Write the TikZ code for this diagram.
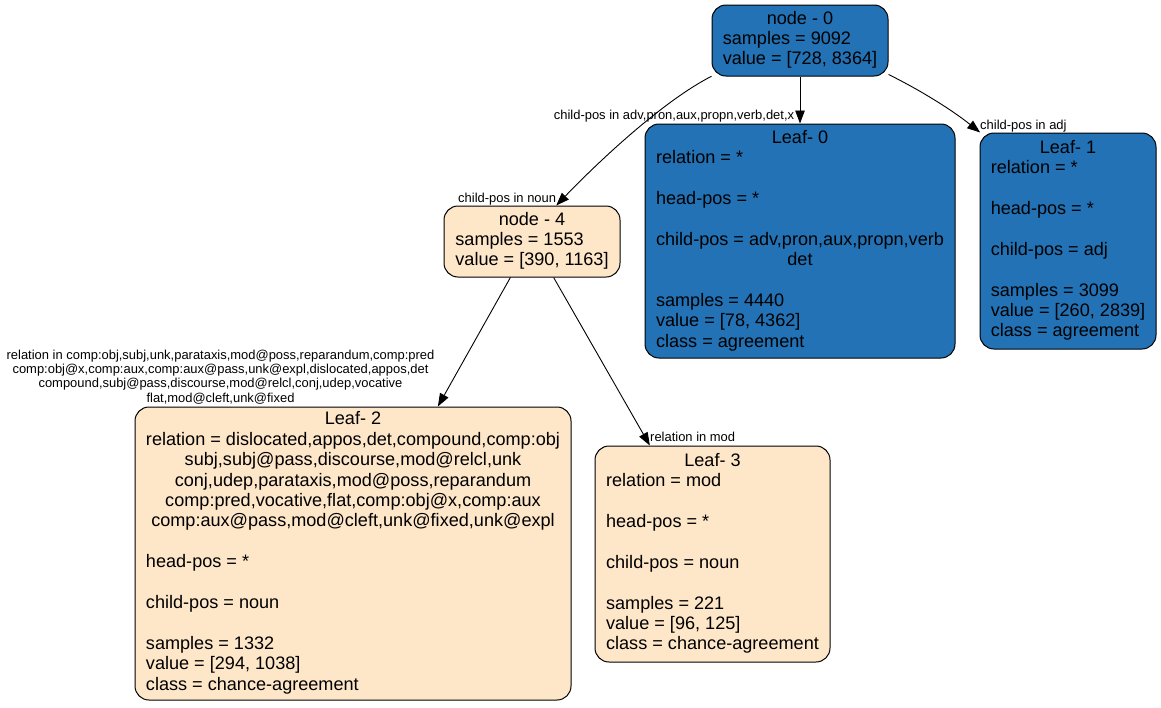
\documentclass[tikz,border=0pt]{standalone}
\usepackage{fontspec}
\setmainfont{Liberation Sans}
\usetikzlibrary{arrows.meta}
\definecolor{leafblue}{RGB}{34,114,181}
\definecolor{leafbeige}{RGB}{254,230,201}
\newcommand\nfont{\fontsize{18.1}{20.4}\selectfont}
\newcommand\efont{\fontsize{12.95}{14.2}\selectfont}
\newcommand\ctr[1]{\multicolumn{1}{@{}c@{}}{#1}}
\begin{document}
\begin{tikzpicture}[x=1pt,y=-1pt,
  box/.style={draw=black, line width=1pt, rounded corners=14pt, inner sep=0pt, font=\nfont},
  bluebox/.style={box, fill=leafblue},
  beigebox/.style={box, fill=leafbeige},
  edge/.style={draw=black, line width=0.9pt, -{Triangle[length=13pt,width=9.5pt]}},
  elabel/.style={font=\efont, inner sep=0pt}]
\useasboundingbox (0,0) rectangle (1161,707);

\node[bluebox, minimum width=176pt, minimum height=71pt] (n0) at (800,40.5)
  {\nfont\begin{tabular}{@{}l@{}}\ctr{node - 0}\\ samples = 9092\\ value = [728, 8364]\end{tabular}};

\node[bluebox, minimum width=310pt, minimum height=234pt] (l0) at (800,241)
  {\nfont\begin{tabular}{@{}l@{}}\ctr{Leaf- 0}\\ relation = *\\ \\ head-pos = *\\ \\ child-pos = adv,pron,aux,propn,verb\\ \ctr{det}\\ \\ samples = 4440\\ value = [78, 4362]\\ class = agreement\end{tabular}};

\node[bluebox, minimum width=176pt, minimum height=216pt] (l1) at (1068,241)
  {\nfont\begin{tabular}{@{}l@{}}\ctr{Leaf- 1}\\ relation = *\\ \\ head-pos = *\\ \\ child-pos = adj\\ \\ samples = 3099\\ value = [260, 2839]\\ class = agreement\end{tabular}};

\node[beigebox, minimum width=176pt, minimum height=71pt] (n4) at (532,241.5)
  {\nfont\begin{tabular}{@{}l@{}}\ctr{node - 4}\\ samples = 1553\\ value = [390, 1163]\end{tabular}};

\node[beigebox, minimum width=436pt, minimum height=293pt] (l2) at (353,553.5)
  {\nfont\begin{tabular}{@{}l@{}}\ctr{Leaf- 2}\\ relation = dislocated,appos,det,compound,comp:obj\\ \ctr{subj,subj@pass,discourse,mod@relcl,unk}\\ \ctr{conj,udep,parataxis,mod@poss,reparandum}\\ \ctr{comp:pred,vocative,flat,comp:obj@x,comp:aux}\\ \ctr{comp:aux@pass,mod@cleft,unk@fixed,unk@expl}\\ \\ head-pos = *\\ \\ child-pos = noun\\ \\ samples = 1332\\ value = [294, 1038]\\ class = chance-agreement\end{tabular}};

\node[beigebox, minimum width=235pt, minimum height=216pt] (l3) at (712.5,554)
  {\nfont\begin{tabular}{@{}l@{}}\ctr{Leaf- 3}\\ relation = mod\\ \\ head-pos = *\\ \\ child-pos = noun\\ \\ samples = 221\\ value = [96, 125]\\ class = chance-agreement\end{tabular}};

\draw[edge] (n0.202) .. controls (665,100) and (603,157) .. (n4.56);
\draw[edge] (n0.south) -- (l0.north);
\draw[edge] (n0.-21) .. controls (920,90) and (952,110) .. (l1.129);
\draw[edge] (n4.-121) -- (l2.60);
\draw[edge] (n4.-59) -- (l3.120);

\node[elabel, anchor=base] (e1) at (674,119) {child-pos in adv,pron,aux,propn,verb,det,x};
\node[elabel, anchor=base west] (e2) at (980,129.5) {child-pos in adj};
\node[elabel, anchor=base west] (e3) at (458,202) {child-pos in noun};
\node[elabel, align=center] (e4) at (220.5,377) {relation in comp:obj,subj,unk,parataxis,mod@poss,reparandum,comp:pred\\ comp:obj@x,comp:aux,comp:aux@pass,unk@expl,dislocated,appos,det\\ compound,subj@pass,discourse,mod@relcl,conj,udep,vocative\\ flat,mod@cleft,unk@fixed};
\node[elabel, anchor=base west] (e5) at (650,441) {relation in mod};
\end{tikzpicture}
\end{document}
